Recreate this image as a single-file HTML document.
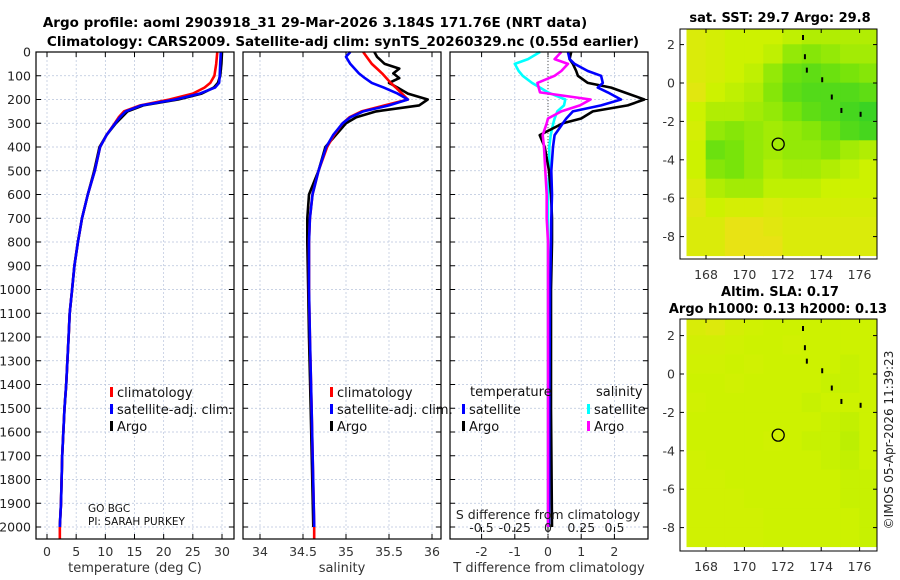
<!DOCTYPE html>
<html><head><meta charset="utf-8"><style>
html,body{margin:0;padding:0;background:#fff;}
svg{display:block;font-family:"DejaVu Sans","Liberation Sans",sans-serif;}
</style></head><body>
<svg id="c" width="900" height="580" viewBox="0 0 900 580" xmlns="http://www.w3.org/2000/svg">
<text x="315" y="27" text-anchor="middle" font-size="13.5" font-weight="bold">Argo profile: aoml 2903918_31 29-Mar-2026 3.184S 171.76E (NRT data)</text>
<text x="343" y="46" text-anchor="middle" font-size="13.5" font-weight="bold">Climatology: CARS2009. Satellite-adj clim: synTS_20260329.nc (0.55d earlier)</text>
<text x="780" y="22" text-anchor="middle" font-size="13" font-weight="bold">sat. SST: 29.7 Argo: 29.8</text>
<text x="780" y="296" text-anchor="middle" font-size="13" font-weight="bold">Altim. SLA: 0.17</text>
<text x="778" y="313" text-anchor="middle" font-size="13" font-weight="bold">Argo h1000: 0.13 h2000: 0.13</text>
<text transform="translate(893,440) rotate(-90)" text-anchor="middle" font-size="12" fill="#222">©IMOS 05-Apr-2026 11:39:23</text>
<g id="layer"></g>
</svg>
<script>
// ---- data ----
const depthT = [0,50,100,130,150,175,200,225,250,275,300,350,400,500,600,700,800,900,1000,1100,1200,1400,1500,1700,1900,2000];
const tempArgo = [30.0,29.9,29.7,29.3,28.6,26.5,22.5,16.5,13.8,12.8,11.8,10.2,9.0,8.1,7.0,6.0,5.3,4.7,4.3,3.9,3.7,3.3,3.0,2.6,2.4,2.2];
const tempClim = [29.2,29.0,28.7,28.0,27.0,25.0,21.0,16.0,13.2,12.3,11.6,10.2,9.1,8.2,7.0,6.0,5.3,4.7,4.3,3.9,3.7,3.3,3.0,2.6,2.4,2.2];
const tempSat = [29.8,29.7,29.6,29.5,28.8,26.2,22.0,16.2,13.5,12.5,11.7,10.2,9.1,8.2,7.0,6.0,5.3,4.7,4.3,3.9,3.7,3.3,3.0,2.6,2.4,2.2];
const depthS = [0,20,50,70,90,110,130,150,175,200,225,250,275,300,350,400,500,600,700,800,1000,1200,1500,2000];
const salArgo = [35.33,35.36,35.45,35.62,35.55,35.62,35.5,35.6,35.72,35.95,35.85,35.35,35.12,35.0,34.88,34.76,34.68,34.57,34.55,34.55,34.56,34.57,34.59,34.62];
const salClim = [35.2,35.24,35.3,35.36,35.42,35.47,35.52,35.58,35.65,35.72,35.45,35.18,35.04,34.96,34.86,34.78,34.68,34.61,34.58,34.57,34.57,34.58,34.6,34.63];
const salSat = [35.05,35.0,35.05,35.1,35.15,35.22,35.3,35.44,35.6,35.72,35.5,35.2,35.05,34.96,34.85,34.77,34.68,34.61,34.58,34.57,34.57,34.58,34.6,34.63];
const depthD = [0,30,50,80,100,130,150,170,200,225,250,280,300,350,400,500,600,700,800,1000,1500,2000];
const dTSat = [0.6,0.65,0.8,1.2,1.6,1.65,1.5,1.8,2.2,1.6,0.75,0.55,0.45,0.2,0.15,0.1,0.12,0.1,0.09,0.06,0.04,0.03];
const dTArgo = [0.7,0.65,0.75,0.85,0.9,1.2,1.9,2.3,2.9,2.4,1.35,1.0,0.45,-0.25,-0.1,0.03,0.09,0.12,0.12,0.09,0.09,0.12];
const dSSat = [-0.06,-0.15,-0.25,-0.22,-0.19,-0.12,-0.06,0.0,0.13,0.12,0.07,0.05,0.04,0.02,0.01,0.01,0.0,0.0,0.0,0.0,0.0,0.0];
const dSArgo = [0.1,0.05,0.15,0.1,0.05,-0.08,-0.07,-0.06,0.32,0.24,0.1,0.0,-0.01,-0.04,-0.03,-0.02,-0.01,-0.01,0.0,0.0,0.0,0.0];
const depthTicks = [0,100,200,300,400,500,600,700,800,900,1000,1100,1200,1300,1400,1500,1600,1700,1800,1900,2000];
const tempTicks = [0,5,10,15,20,25,30];
const salTicks = [34,34.5,35,35.5,36];
const dTTicks = [-2,-1,0,1,2];
const dSTicks = [-0.5,-0.25,0,0.25,0.5];
const dSTickLabels = ["-0.5","-0.25","0","0.25","0.5"];
const lonTicks = [168,170,172,174,176];
const latTicks = [2,0,-2,-4,-6,-8];
const sstGrid = [
[.2,.25,.3,.3,.3,.35,.4,.4,.4,.4],
[.2,.25,.3,.3,.35,.5,.55,.5,.45,.45],
[.2,.25,.3,.35,.5,.65,.7,.65,.6,.55],
[.15,.3,.35,.4,.55,.7,.75,.75,.75,.7],
[.3,.4,.4,.45,.5,.6,.7,.75,.8,.85],
[.25,.5,.55,.5,.45,.5,.55,.65,.75,.8],
[.3,.65,.6,.5,.45,.5,.5,.55,.45,.4],
[.3,.55,.6,.5,.4,.45,.45,.4,.35,.3],
[.2,.4,.45,.45,.35,.35,.35,.3,.3,.3],
[.15,.3,.25,.25,.2,.25,.25,.25,.25,.25],
[.2,.2,.1,.1,.15,.2,.2,.2,.2,.2],
[.2,.2,.1,.1,.1,.2,.2,.2,.2,.2]];
const slaGrid = [
[.22,.18,.25,.28,.3,.3,.3,.3,.3,.3],
[.26,.26,.28,.3,.3,.28,.3,.3,.3,.3],
[.28,.28,.3,.28,.3,.3,.3,.3,.32,.3],
[.3,.3,.28,.3,.3,.3,.3,.32,.32,.3],
[.28,.3,.3,.3,.3,.3,.32,.3,.3,.3],
[.3,.3,.3,.3,.3,.3,.3,.32,.34,.3],
[.3,.3,.3,.3,.28,.3,.32,.32,.36,.3],
[.28,.3,.3,.3,.3,.3,.3,.32,.34,.3],
[.28,.28,.3,.3,.3,.3,.3,.3,.32,.32],
[.28,.28,.28,.3,.3,.3,.3,.3,.32,.32],
[.28,.28,.28,.28,.3,.3,.3,.3,.3,.32],
[.28,.28,.28,.28,.3,.3,.3,.3,.3,.32]];
const argoLon = [171.76];
const argoLat = [-3.184];

// ---- drawing ----
const NS="http://www.w3.org/2000/svg";
const L=document.getElementById('layer');
function mk(tag,at,parent){const e=document.createElementNS(NS,tag);for(const k in at)e.setAttribute(k,at[k]);(parent||L).appendChild(e);return e;}
const top0=52, bot=539;
const yD=d=>top0+d*0.2375;

function panel(x0,x1,name,xs,ticks,labels,xlab){
  const g=mk('g',{});
  
  
  depthTicks.forEach(d=>{mk('line',{x1:x0,x2:x1,y1:yD(d),y2:yD(d),stroke:'#b8c4dc','stroke-width':0.7,'stroke-dasharray':'2,2'},g);
    mk('line',{x1:x0,x2:x0+5,y1:yD(d),y2:yD(d),stroke:'#000'},g);mk('line',{x1:x1-5,x2:x1,y1:yD(d),y2:yD(d),stroke:'#000'},g);});
  ticks.forEach((t,i)=>{const x=xs(t);mk('line',{x1:x,x2:x,y1:top0,y2:bot,stroke:'#b8c4dc','stroke-width':0.7,'stroke-dasharray':'2,2'},g);
    mk('line',{x1:x,x2:x,y1:bot-5,y2:bot,stroke:'#000'},g);mk('line',{x1:x,x2:x,y1:top0,y2:top0+5,stroke:'#000'},g);
    if(labels){const t2=mk('text',{x:x,y:556,'text-anchor':'middle','font-size':12.5,fill:'#333'},g);t2.textContent=labels[i];
      
      }});
  if(xlab){const t=mk('text',{x:(x0+x1)/2,y:572,'text-anchor':'middle','font-size':13,fill:'#333'},g);t.textContent=xlab;
    
    }
  return g;
}
function frame(x0,x1,name){const r=mk('rect',{x:x0,y:top0,width:x1-x0,height:bot-top0,fill:'none',stroke:'#000','stroke-width':1.2});
  
  }
function line(xs,vals,depths,color,name){
  const p=vals.map((v,i)=>xs(v).toFixed(1)+','+yD(depths[i]).toFixed(1)).join(' ');
  const e=mk('polyline',{points:p,fill:'none',stroke:color,'stroke-width':2.6,'stroke-linejoin':'round'});
  
  
}
const xT=v=>47+v*5.833;
panel(36,234,'temperature-panel',xT,tempTicks,tempTicks.map(String),'temperature (deg C)');
depthTicks.forEach(d=>{const t=mk('text',{x:31,y:yD(d)+4.5,'text-anchor':'end','font-size':12.5,fill:'#222'});t.textContent=d;
  
  });
line(xT,tempArgo,depthT,'#000','temp-argo-line');
line(xT,tempClim,depthT,'#f00','temp-climatology-line');
line(xT,tempSat,depthT,'#00f','temp-satellite-line');
mk('line',{x1:xT(tempClim[tempClim.length-1]),x2:xT(tempClim[tempClim.length-1]),y1:yD(2000),y2:bot,stroke:'#f00','stroke-width':2.6});
frame(36,234,'temperature-axes-frame');
const xS=v=>260+(v-34)*86;
panel(243,441,'salinity-panel',xS,salTicks,salTicks.map(String),'salinity');
line(xS,salArgo,depthS,'#000','sal-argo-line');
line(xS,salClim,depthS,'#f00','sal-climatology-line');
line(xS,salSat,depthS,'#00f','sal-satellite-line');
mk('line',{x1:xS(34.63),x2:xS(34.63),y1:yD(2000),y2:bot,stroke:'#f00','stroke-width':2.6});
frame(243,441,'salinity-axes-frame');
const xDT=v=>548+v*33.2;
const xDS=v=>548+v*133;
panel(450,648,'difference-panel',xDT,dTTicks,dTTicks.map(String),'T difference from climatology');
mk('line',{x1:548,x2:548,y1:top0,y2:bot,stroke:'#555','stroke-width':1,'stroke-dasharray':'1,2'});
line(xDS,dSSat,depthD,'#0ff','sal-diff-satellite-line');
line(xDT,dTArgo,depthD,'#000','temp-diff-argo-line');
line(xDT,dTSat,depthD,'#00f','temp-diff-satellite-line');
line(xDS,dSArgo,depthD,'#f0f','sal-diff-argo-line');
dSTicks.forEach((t,i)=>{const x=xDS(t);mk('line',{x1:x,x2:x,y1:527,y2:532,stroke:'#000'});
  const e=mk('text',{x:x,y:532,'text-anchor':'middle','font-size':12.5,fill:'#222'});e.textContent=dSTickLabels[i];
  
  });
{const e=mk('text',{x:548,y:519,'text-anchor':'middle','font-size':12.5,fill:'#222'});e.textContent='S difference from climatology';

}
frame(450,648,'difference-axes-frame');

function leg(x,y,color,label,name){const g=mk('g',{});
  
  
  mk('rect',{x:x,y:y-9,width:3,height:10,fill:color},g);
  const t=mk('text',{x:x+7,y:y+1,'font-size':13,fill:'#111'},g);t.textContent=label;}
leg(110,396,'#f00','climatology','legend-entry-climatology');
leg(110,413,'#00f','satellite-adj. clim.','legend-entry-satellite');
leg(110,430,'#000','Argo','legend-entry-argo');
leg(330,396,'#f00','climatology','legend-entry-climatology-sal');
leg(330,413,'#00f','satellite-adj. clim.','legend-entry-satellite-sal');
leg(330,430,'#000','Argo','legend-entry-argo-sal');
{const t=mk('text',{x:470,y:396,'font-size':13,fill:'#111'});t.textContent='temperature';


const t2=mk('text',{x:596,y:396,'font-size':13,fill:'#111'});t2.textContent='salinity';

}
leg(462,413,'#00f','satellite','legend-entry-t-satellite');
leg(462,430,'#000','Argo','legend-entry-t-argo');
leg(587,413,'#0ff','satellite','legend-entry-s-satellite');
leg(587,430,'#f0f','Argo','legend-entry-s-argo');
{const t=mk('text',{x:88,y:512,'font-size':10.5,fill:'#111'});t.textContent='GO BGC';


const t2=mk('text',{x:88,y:525,'font-size':10.5,fill:'#111'});t2.textContent='PI: SARAH PURKEY';

}

function col(v){const stops=[[0,[245,220,30]],[0.3,[205,242,0]],[0.6,[120,228,10]],[1,[20,200,50]]];
  for(let i=1;i<stops.length;i++){if(v<=stops[i][0]){const a=stops[i-1],b=stops[i],f=(v-a[0])/(b[0]-a[0]);
    return 'rgb('+a[1].map((c,j)=>Math.round(c+(b[1][j]-c)*f)).join(',')+')';}}return 'rgb(20,200,50)';}
function map(yTop,yBot,lat0y,grid,name,coast){
  const xL=v=>706+(v-168)*19.2, yL=v=>lat0y-v*19.2;
  const g=mk('g',{});
  
  
  const cp='clip'+name;const cl=mk('clipPath',{id:cp},g);mk('rect',{x:680,y:yTop,width:197,height:yBot-yTop},cl);
  const cg=mk('g',{'clip-path':'url(#'+cp+')'},g);
  grid.forEach((row,r)=>row.forEach((v,c)=>{const x=xL(167+c),y=yL(3-r);
    const e=mk('rect',{x:x-0.3,y:y-0.3,width:19.8,height:19.8,fill:col(v)},cg);
    
    }));
  if(coast){[[173,2.5],[173.1,1.5],[173.2,0.8],[174,0.3],[174.5,-0.6],[175,-1.3],[176,-1.5],[176.9,-2.7]].forEach(p=>mk('rect',{x:xL(p[0]),y:yL(p[1]),width:2,height:5,fill:'#000'},cg));}
  mk('rect',{x:680,y:yTop,width:197,height:yBot-yTop,fill:'none',stroke:'#000','stroke-width':1},g);
  latTicks.forEach(t=>{const y=yL(t);mk('line',{x1:680,x2:684,y1:y,y2:y,stroke:'#000'},g);mk('line',{x1:873,x2:877,y1:y,y2:y,stroke:'#000'},g);
    const e=mk('text',{x:675,y:y+4.5,'text-anchor':'end','font-size':12.5,fill:'#333'},g);e.textContent=t;
    
    });
  lonTicks.forEach(t=>{const x=xL(t);mk('line',{x1:x,x2:x,y1:yBot-4,y2:yBot,stroke:'#000'},g);mk('line',{x1:x,x2:x,y1:yTop,y2:yTop+4,stroke:'#000'},g);
    const e=mk('text',{x:x,y:yBot+20,'text-anchor':'middle','font-size':12.5,fill:'#333'},g);e.textContent=t;
    
    });
  argoLon.forEach((lo,i)=>{const e=mk('circle',{cx:xL(lo),cy:yL(argoLat[i]),r:6,fill:'none',stroke:'#000','stroke-width':1.3},g);
    
    });
}
map(29,259,83,sstGrid,'sst-map',true);
map(319,551,374,slaGrid,'sla-map',true);
</script>
</body></html>
